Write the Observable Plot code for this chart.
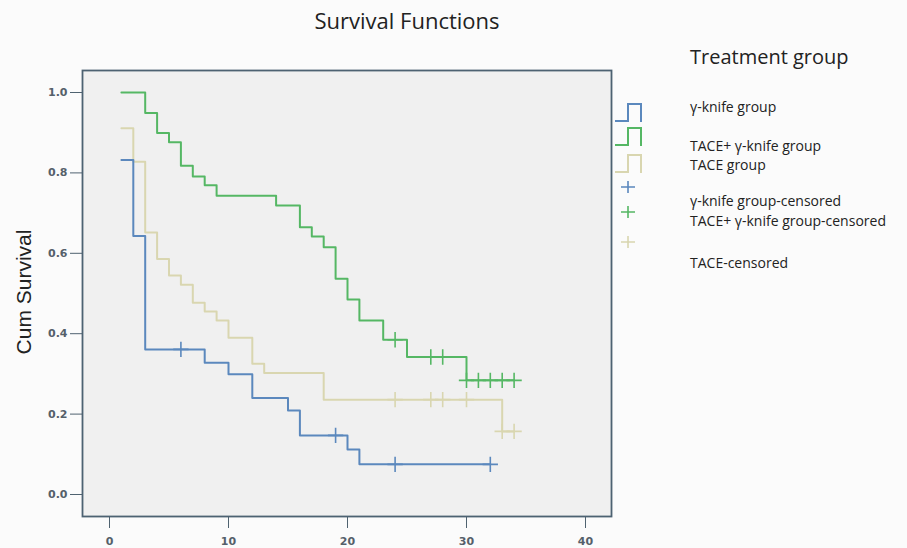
<!DOCTYPE html>
<html>
<head>
<meta charset="utf-8">
<script src="https://cdn.jsdelivr.net/npm/d3@7"></script>
<script src="https://cdn.jsdelivr.net/npm/@observablehq/plot@0.6"></script>
<style>
  body { margin: 0; background: #fbfbfb; }
  #wrap { position: relative; width: 907px; height: 548px; overflow: hidden; }
  #title { position: absolute; left: 0; top: 5px; width: 814px; text-align: center;
           font-family: "Open Sans", sans-serif; font-size: 22px; color: #222; }
  #ylab { position: absolute; left: 24px; top: 292px; transform: translate(-50%, -50%) rotate(-90deg);
          white-space: nowrap; font-family: "Liberation Sans", Arial, sans-serif; font-size: 21px; color: #222; }
  #legend { position: absolute; left: 0; top: 0; pointer-events: none; }
  #legend text { font-family: "Open Sans", sans-serif; fill: #222; }
</style>
</head>
<body>
<div id="wrap">
  <div id="chart"></div>
  <div id="title">Survival Functions</div>
  <div id="ylab">Cum Survival</div>
</div>
<script>
// ---- data ----
const groups = ["γ-knife group", "TACE+ γ-knife group", "TACE group"];
const colors = ["#5b88bd", "#55b764", "#d9d6b0"];

const blueT = [1, 2, 3, 8, 10, 12, 15, 16, 20, 21, 32];
const blueS = [0.832, 0.643, 0.361, 0.328, 0.299, 0.240, 0.209, 0.147, 0.112, 0.075, 0.075];
const blueCens = [6, 19, 24, 32];

const greenT = [1, 3, 4, 5, 6, 7, 8, 9, 14, 16, 17, 18, 19, 20, 21, 23, 25, 30, 34];
const greenS = [1.0, 0.949, 0.899, 0.876, 0.818, 0.791, 0.769, 0.743, 0.719, 0.665, 0.642, 0.615, 0.537, 0.485, 0.433, 0.385, 0.342, 0.284, 0.284];
const greenCens = [24, 27, 28, 30, 31, 32, 33, 34];

const taceT = [1, 2, 3, 4, 5, 6, 7, 8, 9, 10, 12, 13, 18, 33, 34];
const taceS = [0.911, 0.828, 0.652, 0.586, 0.545, 0.522, 0.477, 0.455, 0.433, 0.390, 0.325, 0.302, 0.236, 0.157, 0.157];
const taceCens = [24, 27, 28, 30, 33, 34];

const xTicks = [0, 10, 20, 30, 40];
const yTicks = [0, 0.2, 0.4, 0.6, 0.8, 1.0];

const legendLabels = ["γ-knife group", "TACE+ γ-knife group", "TACE group",
  "γ-knife group-censored", "TACE+ γ-knife group-censored", "TACE-censored"];

// ---- build tables ----
function steps(T, S, g) { return T.map((t, i) => ({t, s: S[i], g})); }
function cens(T, S, C, g) {
  return C.map(c => {
    let s = S[0];
    for (let i = 0; i < T.length; i++) if (T[i] <= c) s = S[i];
    return {t: c, s, g};
  });
}
const series = [
  {T: taceT, S: taceS, C: taceCens, g: groups[2]},
  {T: greenT, S: greenS, C: greenCens, g: groups[1]},
  {T: blueT, S: blueS, C: blueCens, g: groups[0]}
];

const marks = [Plot.frame({fill: "#f0f0f0", stroke: "none"})];
for (const d of series) {
  marks.push(Plot.line(steps(d.T, d.S, d.g), {x: "t", y: "s", stroke: "g", curve: "step-after", strokeWidth: 2}));
  marks.push(Plot.dot(cens(d.T, d.S, d.C, d.g), {x: "t", y: "s", stroke: "g", symbol: "plus", r: 5, strokeWidth: 1.6}));
}
marks.push(Plot.axisX({ticks: xTicks, tickSize: 12, tickPadding: 9, label: null, stroke: "#4f6270", fill: "#55606a"}));
marks.push(Plot.axisY({ticks: yTicks, tickFormat: d3.format(".1f"), tickSize: 12, tickPadding: 3, label: null, stroke: "#4f6270", fill: "#55606a"}));
marks.push(Plot.frame({stroke: "#4d6272", strokeWidth: 1.8}));

const chart = Plot.plot({
  width: 907, height: 548,
  marginLeft: 82, marginRight: 296, marginTop: 70, marginBottom: 32,
  x: {domain: [(82 - 109) / 11.9, (611 - 109) / 11.9]},
  y: {domain: [-22 / 402, 424 / 402]},
  color: {domain: groups, range: colors},
  style: {background: "#fbfbfb", fontFamily: "DejaVu Sans", fontSize: "11px", fontWeight: "bold", color: "#4f6270"},
  marks
});
document.getElementById("chart").appendChild(chart);

// ---- legend ----
const ns = "http://www.w3.org/2000/svg";
const lg = document.createElementNS(ns, "svg");
lg.setAttribute("id", "legend");
lg.setAttribute("width", 907); lg.setAttribute("height", 548);
document.getElementById("wrap").appendChild(lg);
function el(tag, attrs, txt) {
  const e = document.createElementNS(ns, tag);
  for (const k in attrs) e.setAttribute(k, attrs[k]);
  if (txt != null) e.textContent = txt;
  lg.appendChild(e); return e;
}
el("text", {x: 690, y: 64, "font-size": 20}, "Treatment group");
const stepTops = [104, 128, 155];
stepTops.forEach((top, i) => {
  const bot = top + 17;
  el("path", {d: `M615,${bot} H628 V${top} H641 V${bot + 1}`, fill: "none", stroke: colors[i], "stroke-width": 2});
});
const plusY = [187, 212, 242];
plusY.forEach((y, i) => {
  el("path", {d: `M621,${y} H635 M628,${y - 6} V${y + 6}`, fill: "none", stroke: colors[i], "stroke-width": 1.6});
});
const textY = [112, 151, 170, 206, 226, 268];
legendLabels.forEach((t, i) => el("text", {x: 690, y: textY[i], "font-size": 14}, t));
</script>
</body>
</html>
